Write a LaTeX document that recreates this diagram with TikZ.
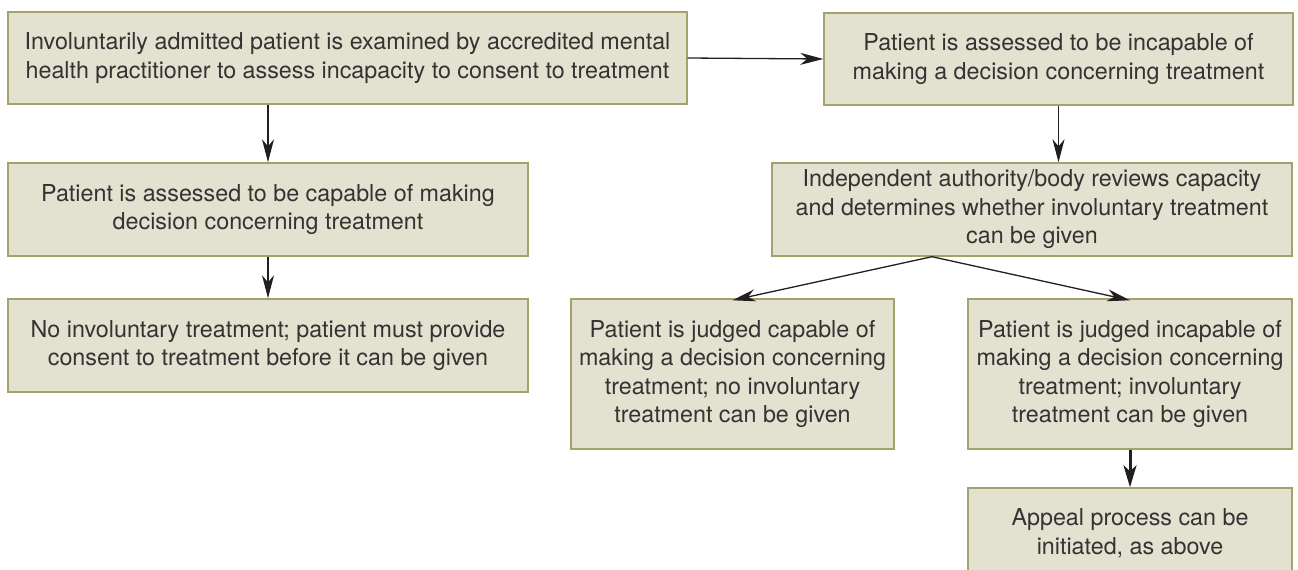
\documentclass[tikz,border=0pt]{standalone}
\usepackage{fontspec}
\setmainfont{TeX Gyre Heros}
\usetikzlibrary{arrows.meta,calc}
\definecolor{boxfill}{HTML}{E3E1D0}
\definecolor{boxline}{HTML}{A3A26A}
\definecolor{txt}{HTML}{333333}
\definecolor{arrcol}{HTML}{231F20}
\begin{document}
\begin{tikzpicture}[x=1pt,y=-1pt,
  box/.style={draw=boxline, fill=boxfill, line width=1.4pt, inner sep=0pt, align=center,
    text=txt, font=\fontsize{23.3}{28.5}\selectfont},
  arr/.style={draw=arrcol, line width=1.3pt, -{Stealth[length=23pt,width=12pt,inset=7pt]}}]
\useasboundingbox (0,0) rectangle (1298,570);
\node[box, minimum width=679pt, minimum height=92pt] (b1) at (347.5,58) {Involuntarily admitted patient is examined by accredited mental\\health practitioner to assess incapacity to consent to treatment};
\node[box, minimum width=469pt, minimum height=92pt] (b2) at (1058.5,59) {Patient is assessed to be incapable of\\making a decision concerning treatment};
\node[box, minimum width=520pt, minimum height=93pt] (b3) at (268,209.5) {Patient is assessed to be capable of making\\decision concerning treatment};
\node[box, minimum width=520pt, minimum height=93pt] (b4) at (268,345.5) {No involuntary treatment; patient must provide\\consent to treatment before it can be given};
\node[box, minimum width=520pt, minimum height=93pt] (b5) at (1032,209.5) {Independent authority/body reviews capacity\\and determines whether involuntary treatment\\can be given};
\node[box, minimum width=323pt, minimum height=150pt] (b6) at (732.5,374) {Patient is judged capable of\\making a decision concerning\\treatment; no involuntary\\treatment can be given};
\node[box, minimum width=324pt, minimum height=150pt] (b7) at (1130,374) {Patient is judged incapable of\\making a decision concerning\\treatment; involuntary\\treatment can be given};
\node[box, minimum width=324pt, minimum height=90pt] (b8) at (1130,533) {Appeal process can be\\initiated, as above};
\coordinate (s5) at ([xshift=-100pt]b5.south);
\draw[arr] (b1.east) -- (b2.west);
\draw[arr] (b1.south -| b3.north) -- (b3.north);
\draw[arr] (b3.south) -- (b4.north);
\draw[arr] (b2.south) -- (b2.south |- b5.north);
\draw[arr] (s5) -- ([yshift=-2pt]b6.north);
\draw[arr] (s5) -- ([yshift=-2pt]b7.north);
\draw[arr, line width=3pt, -{Stealth[length=22pt,width=13pt,inset=6pt]}] (b7.south) -- (b8.north);
\end{tikzpicture}
\end{document}
